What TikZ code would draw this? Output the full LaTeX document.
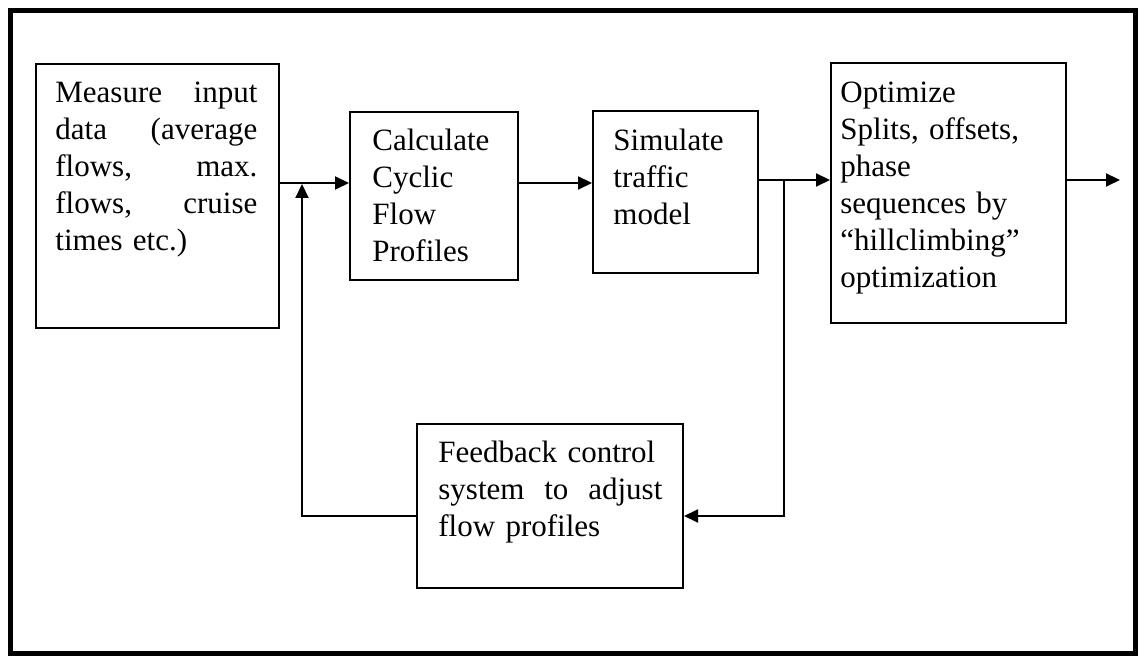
\documentclass[tikz,border=0pt]{standalone}
\usepackage{fontspec}
\setmainfont{Liberation Serif}
\usetikzlibrary{arrows.meta}
\begin{document}
\begin{tikzpicture}[x=0.5pt,y=-0.5pt,
  box/.style={draw, line width=1pt, inner sep=0pt, anchor=north west},
  txt/.style={inner sep=0pt, anchor=north west, align=left, font=\fontsize{15.5pt}{18.5pt}\selectfont},
  conn/.style={line width=1pt, -{Triangle[length=7pt,width=6.5pt]}},
  plain/.style={line width=1pt}]
\useasboundingbox (0,0) rectangle (1138,656);
\draw[line width=2.5pt] (10,11) rectangle (1135,653);
% boxes
\node[box, minimum width=121.5pt, minimum height=132pt] (meas) at (35,63) {};
\node[box, minimum width=84pt, minimum height=84pt] (calc) at (349,111) {};
\node[box, minimum width=82.5pt, minimum height=81pt] (sim) at (592,110) {};
\node[box, minimum width=117.5pt, minimum height=130pt] (opt) at (830,62) {};
\node[box, minimum width=133pt, minimum height=82pt] (fb) at (416,423) {};
% texts
\node[txt, text width=101pt] (meastxt) at (55,76) {\strut Measure\hfill input\\ data\hfill (average\\ flows,\hfill max.\\ flows,\hfill cruise\\ times etc.)};
\node[txt, text width=70pt] (calctxt) at (372,124) {\strut Calculate\\ Cyclic\\ Flow\\ Profiles};
\node[txt, text width=70pt] (simtxt) at (613,124) {\strut Simulate\\ traffic\\ model};
\node[txt, text width=107pt] (opttxt) at (840,76) {\strut Optimize\\ Splits, offsets,\\ phase\\ sequences by\\ “hillclimbing”\\ optimization};
\node[txt, text width=112pt] (fbtxt) at (438,436) {\strut Feedback control\\ system\hfill to\hfill adjust\\ flow profiles};
% helper coordinates
\coordinate (r1) at (0,183);
\coordinate (r2) at (0,180);
\coordinate (r3) at (0,516);
\coordinate (j1) at (302,184);
\coordinate (j2) at (784,180);
\coordinate (out) at (1120,180);
% connectors
\draw[conn] (meas.east |- r1) -- (calc.west |- r1);
\draw[conn] (calc.east |- r1) -- (sim.west |- r1);
\draw[conn] (sim.east |- r2) -- (opt.west |- r2);
\draw[conn] (opt.east |- r2) -- (out);
\draw[conn] (j2) |- (fb.east |- r3);
\draw[conn] (fb.west |- r3) -| (j1);
\end{tikzpicture}
\end{document}
